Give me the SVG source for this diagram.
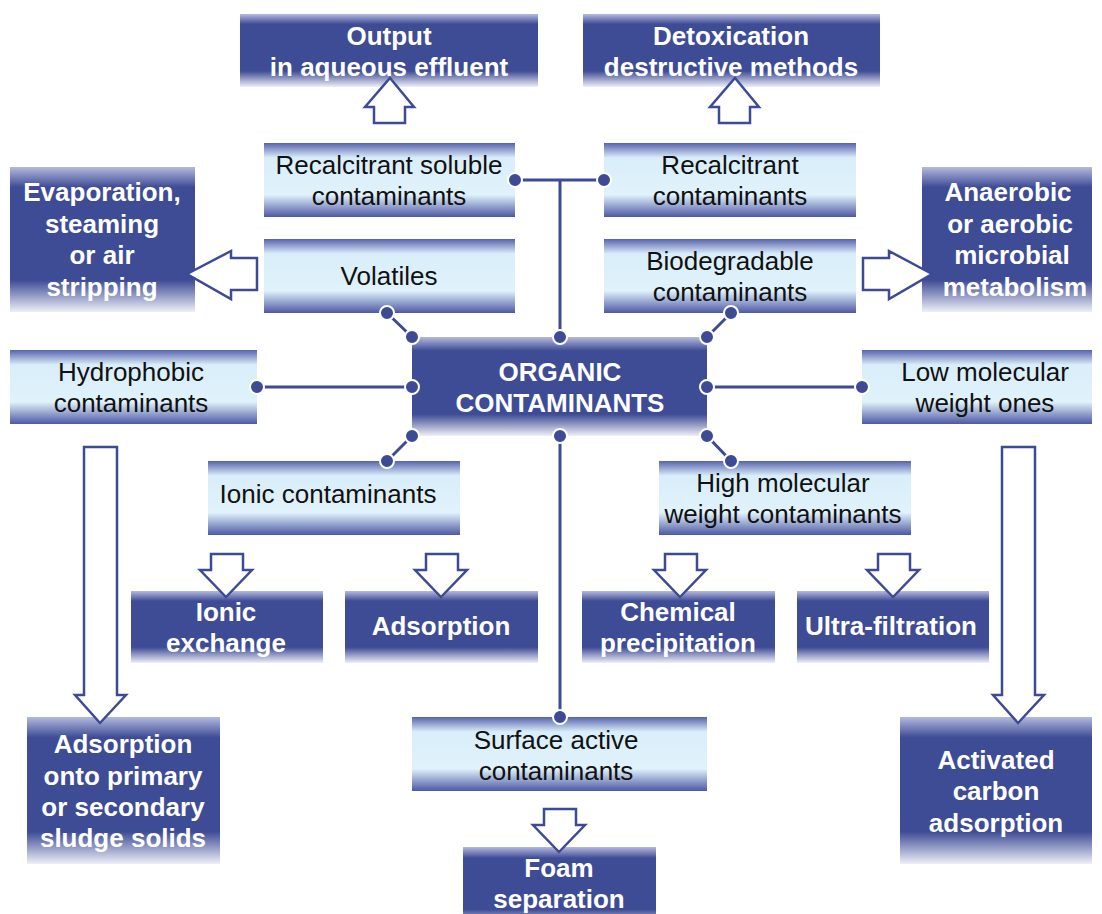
<svg xmlns="http://www.w3.org/2000/svg" width="1102" height="914" viewBox="0 0 1102 914">
<defs>
<linearGradient id="gDark" x1="0" y1="0" x2="0" y2="1">
<stop offset="0" stop-color="#b4bade"/>
<stop offset="0.14" stop-color="#3e4b95"/>
<stop offset="0.78" stop-color="#3e4b95"/>
<stop offset="1" stop-color="#eef0f8"/>
</linearGradient>
<linearGradient id="gLight" x1="0" y1="0" x2="0" y2="1">
<stop offset="0" stop-color="#5862ad"/>
<stop offset="0.2" stop-color="#d9eefa"/>
<stop offset="0.7" stop-color="#e0f2fb"/>
<stop offset="1" stop-color="#4d58a4"/>
</linearGradient>
<style>
.dk{fill:url(#gDark)}
.lt{fill:url(#gLight)}
.tw{font-family:"Liberation Sans",Arial,sans-serif;font-size:26px;font-weight:bold;fill:#fff;text-anchor:middle}
.tb{font-family:"Liberation Sans",Arial,sans-serif;font-size:26px;fill:#111;text-anchor:middle}
.ln{stroke:#3d4a94;stroke-width:3;fill:none}
.dot{fill:#3d4a94;stroke:#fff;stroke-width:2}
.ar{fill:#fff;stroke:#3d4a94;stroke-width:2.5;stroke-linejoin:miter}
</style>
</defs>
<rect width="1102" height="914" fill="#fff"/>

<g id="output"><rect class="dk" x="240" y="14" width="298" height="73"/><text class="tw" x="389" y="45">Output</text><text class="tw" x="389" y="76">in aqueous effluent</text></g>
<g id="detox"><rect class="dk" x="583" y="14" width="297" height="73"/><text class="tw" x="731" y="45">Detoxication</text><text class="tw" x="731" y="76">destructive methods</text></g>
<g id="evap"><rect class="dk" x="10" y="167" width="185" height="145"/><text class="tw" x="102" y="201">Evaporation,</text><text class="tw" x="102" y="233">steaming</text><text class="tw" x="102" y="264">or air</text><text class="tw" x="102" y="296">stripping</text></g>
<g id="anaerobic"><rect class="dk" x="922" y="167" width="170" height="145"/><text class="tw" x="1008" y="201">Anaerobic</text><text class="tw" x="1010" y="233">or aerobic</text><text class="tw" x="1012" y="264">microbial</text><text class="tw" x="1015" y="296">metabolism</text></g>
<g id="organic"><rect class="dk" x="412" y="337" width="295" height="99"/><text class="tw" x="560" y="381">ORGANIC</text><text class="tw" x="560" y="412">CONTAMINANTS</text></g>
<g id="ionicex"><rect class="dk" x="131" y="591" width="192" height="72"/><text class="tw" x="226" y="621">Ionic</text><text class="tw" x="226" y="652">exchange</text></g>
<g id="adsorption"><rect class="dk" x="345" y="591" width="193" height="72"/><text class="tw" x="441" y="635">Adsorption</text></g>
<g id="chemical"><rect class="dk" x="582" y="591" width="193" height="72"/><text class="tw" x="678" y="621">Chemical</text><text class="tw" x="678" y="652">precipitation</text></g>
<g id="ultra"><rect class="dk" x="797" y="591" width="192" height="72"/><text class="tw" x="891" y="635">Ultra-filtration</text></g>
<g id="sludge"><rect class="dk" x="27" y="717" width="193" height="147"/><text class="tw" x="123" y="753">Adsorption</text><text class="tw" x="123" y="785">onto primary</text><text class="tw" x="123" y="816">or secondary</text><text class="tw" x="123" y="847">sludge solids</text></g>
<g id="carbon"><rect class="dk" x="900" y="717" width="192" height="147"/><text class="tw" x="996" y="769">Activated</text><text class="tw" x="996" y="800">carbon</text><text class="tw" x="996" y="832">adsorption</text></g>
<g id="foam"><rect class="dk" x="463" y="847" width="193" height="80"/><text class="tw" x="559" y="877">Foam</text><text class="tw" x="559" y="908">separation</text></g>

<g id="recsol"><rect class="lt" x="264" y="143" width="251" height="74"/><text class="tb" x="389" y="174">Recalcitrant soluble</text><text class="tb" x="389" y="205">contaminants</text></g>
<g id="rec"><rect class="lt" x="604" y="143" width="252" height="74"/><text class="tb" x="730" y="174">Recalcitrant</text><text class="tb" x="730" y="205">contaminants</text></g>
<g id="volatiles"><rect class="lt" x="264" y="239" width="251" height="74"/><text class="tb" x="389" y="285">Volatiles</text></g>
<g id="biodeg"><rect class="lt" x="604" y="239" width="252" height="74"/><text class="tb" x="730" y="270">Biodegradable</text><text class="tb" x="730" y="301">contaminants</text></g>
<g id="hydrophobic"><rect class="lt" x="10" y="350" width="247" height="74"/><text class="tb" x="131" y="381">Hydrophobic</text><text class="tb" x="131" y="412">contaminants</text></g>
<g id="lowmw"><rect class="lt" x="862" y="350" width="230" height="74"/><text class="tb" x="985" y="381">Low molecular</text><text class="tb" x="985" y="412">weight ones</text></g>
<g id="ionic"><rect class="lt" x="208" y="461" width="252" height="74"/><text class="tb" x="328" y="503">Ionic contaminants</text></g>
<g id="highmw"><rect class="lt" x="659" y="461" width="252" height="74"/><text class="tb" x="783" y="492">High molecular</text><text class="tb" x="783" y="523">weight contaminants</text></g>
<g id="surface"><rect class="lt" x="412" y="717" width="295" height="74"/><text class="tb" x="556" y="749">Surface active</text><text class="tb" x="556" y="780">contaminants</text></g>

<g id="arrows">
<polygon class="ar" points="390,78 414,107 405,107 405,123 374,123 374,107 365,107"/>
<polygon class="ar" points="735,78 759,107 750,107 750,123 719,123 719,107 710,107"/>
<polygon class="ar" points="187,274 231,251 231,258 257,258 257,290 231,290 231,299"/>
<polygon class="ar" points="932,274 889,251 889,258 863,258 863,290 889,290 889,299"/>
<polygon class="ar" points="100,723 126,695 117,695 117,447 84,447 84,695 75,695"/>
<polygon class="ar" points="1018,723 1044,695 1035,695 1035,447 1002,447 1002,695 993,695"/>
<polygon class="ar" points="226,597 252,570 243,570 243,554 211,554 211,570 200,570"/>
<polygon class="ar" points="441,597 467,570 458,570 458,554 426,554 426,570 415,570"/>
<polygon class="ar" points="680,597 706,570 697,570 697,554 665,554 665,570 654,570"/>
<polygon class="ar" points="893,597 919,570 910,570 910,554 878,554 878,570 867,570"/>
<polygon class="ar" points="559,852 585,825 576,825 576,809 544,809 544,825 533,825"/>
</g>

<g id="connectors">
<path class="ln" d="M515 180 H604 M560 180 V337 M387 313 L412 337 M731 313 L707 337 M257 387 H412 M707 387 H862 M412 436 L387 461 M707 436 L731 461 M560 436 V717"/>
<circle class="dot" cx="515" cy="180" r="7"/>
<circle class="dot" cx="604" cy="180" r="7"/>
<circle class="dot" cx="560" cy="337" r="7"/>
<circle class="dot" cx="387" cy="313" r="7"/>
<circle class="dot" cx="412" cy="337" r="7"/>
<circle class="dot" cx="731" cy="313" r="7"/>
<circle class="dot" cx="707" cy="337" r="7"/>
<circle class="dot" cx="257" cy="387" r="7"/>
<circle class="dot" cx="412" cy="387" r="7"/>
<circle class="dot" cx="707" cy="387" r="7"/>
<circle class="dot" cx="862" cy="387" r="7"/>
<circle class="dot" cx="412" cy="436" r="7"/>
<circle class="dot" cx="387" cy="461" r="7"/>
<circle class="dot" cx="707" cy="436" r="7"/>
<circle class="dot" cx="731" cy="461" r="7"/>
<circle class="dot" cx="560" cy="436" r="7"/>
<circle class="dot" cx="560" cy="717" r="7"/>
</g>
</svg>
